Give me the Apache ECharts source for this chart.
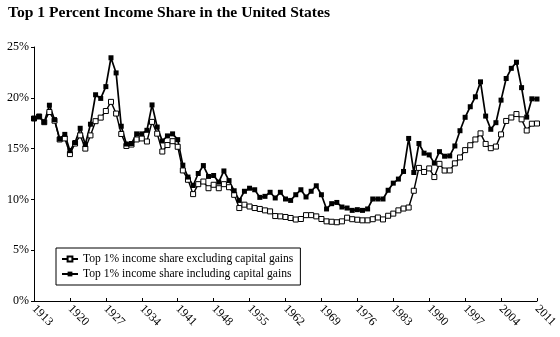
<!DOCTYPE html>
<html>
<head>
<meta charset="utf-8">
<script src="https://cdn.jsdelivr.net/npm/echarts@6/dist/echarts.min.js"></script>
<style>
html,body{margin:0;padding:0;background:#fff;}
#chart{width:560px;height:337px;}
</style>
</head>
<body>
<div id="chart"></div>
<script>
const years = [];
for (let y = 1913; y <= 2011; y++) years.push(String(y));

const seriesNames = [
  "Top 1% income share excluding capital gains",
  "Top 1% income share including capital gains"
];

// Top 1% income share excluding capital gains (%), 1913-2011
const excludingGains = [
  17.96, 18.16, 17.60, 18.60, 17.75, 15.90, 16.00, 14.46, 15.50, 16.30,
  15.00, 16.30, 17.70, 18.05, 18.70, 19.60, 18.45, 16.44, 15.26, 15.40,
  15.90, 16.00, 15.70, 17.63, 16.47, 14.71, 15.35, 15.73, 15.18, 12.85,
  11.93, 10.52, 11.50, 11.76, 11.10, 11.44, 11.10, 11.50, 11.20, 10.45,
  9.15, 9.48, 9.30, 9.15, 9.06, 8.92, 8.82, 8.36, 8.33, 8.27,
  8.17, 8.02, 8.07, 8.45, 8.45, 8.33, 8.07, 7.84, 7.80, 7.75,
  7.84, 8.20, 8.05, 8.00, 7.94, 7.94, 8.05, 8.22, 8.03, 8.39,
  8.60, 8.92, 9.10, 9.20, 10.85, 13.10, 12.70, 13.05, 12.20, 13.50,
  12.84, 12.85, 13.55, 14.13, 14.85, 15.33, 15.90, 16.50, 15.46, 15.04,
  15.20, 16.40, 17.72, 18.06, 18.40, 17.88, 16.78, 17.45, 17.47
];

// Top 1% income share including capital gains (%), 1913-2011
const includingGains = [
  17.96, 18.16, 17.60, 19.27, 17.85, 15.95, 16.40, 14.80, 15.60, 17.00,
  15.40, 17.40, 20.30, 19.94, 21.10, 23.94, 22.45, 17.20, 15.45, 15.50,
  16.45, 16.45, 16.80, 19.30, 17.12, 15.75, 16.25, 16.45, 15.88, 13.37,
  12.20, 11.37, 12.55, 13.33, 12.26, 12.35, 11.70, 12.80, 11.85, 10.85,
  9.90, 10.80, 11.10, 10.95, 10.20, 10.30, 10.70, 10.14, 10.70, 10.04,
  9.90, 10.46, 10.95, 10.24, 10.80, 11.34, 10.46, 9.06, 9.58, 9.70,
  9.25, 9.15, 8.92, 8.99, 8.92, 9.06, 10.04, 10.04, 10.04, 10.90,
  11.60, 12.00, 12.75, 16.00, 12.65, 15.50, 14.55, 14.38, 13.57, 14.70,
  14.25, 14.28, 15.26, 16.76, 18.08, 19.12, 20.10, 21.57, 18.20, 16.90,
  17.55, 19.77, 21.90, 22.90, 23.50, 21.00, 18.10, 19.90, 19.88
];

const yTicks = [0, 5, 10, 15, 20, 25];

const serif = '"Liberation Serif", "DejaVu Serif", serif';

const chart = echarts.init(document.getElementById('chart'), null, {renderer: 'canvas'});
chart.setOption({
  animation: false,
  backgroundColor: '#fff',
  title: {
    text: 'Top 1 Percent Income Share in the United States',
    left: 3,
    top: 0,
    textStyle: {fontFamily: serif, fontWeight: 'bold', fontSize: 15.6, color: '#000'}
  },
  grid: {left: 34, right: 23, top: 47, bottom: 36, containLabel: false},
  legend: {
    orient: 'vertical',
    left: 56,
    top: 248,
    padding: [5, 7, 5, 5],
    itemGap: 3,
    itemWidth: 16,
    itemHeight: 6,
    borderColor: '#000',
    borderWidth: 1,
    textStyle: {fontFamily: serif, fontSize: 11.6, color: '#000'},
    data: seriesNames
  },
  xAxis: {
    type: 'category',
    data: years,
    boundaryGap: false,
    axisLine: {lineStyle: {color: '#000', width: 1}},
    axisTick: {inside: true, length: 3, interval: 6, lineStyle: {color: '#000'}},
    axisLabel: {
      interval: 6, rotate: -45, margin: 6,
      fontFamily: serif, fontSize: 12, color: '#000'
    },
    splitLine: {show: false}
  },
  yAxis: {
    type: 'value',
    min: yTicks[0],
    max: yTicks[yTicks.length - 1],
    interval: 5,
    axisLine: {show: true, lineStyle: {color: '#000', width: 1}},
    axisTick: {show: true, length: 3, lineStyle: {color: '#000'}},
    axisLabel: {formatter: '{value}%', fontFamily: serif, fontSize: 12, color: '#000', margin: 5},
    splitLine: {show: false}
  },
  series: [
    {
      name: seriesNames[0],
      type: 'line',
      data: excludingGains,
      symbol: 'rect',
      symbolSize: 5,
      showAllSymbol: true,
      lineStyle: {color: '#000', width: 1.4},
      itemStyle: {color: '#fff', borderColor: '#000', borderWidth: 1}
    },
    {
      name: seriesNames[1],
      type: 'line',
      data: includingGains,
      symbol: 'rect',
      symbolSize: 5,
      showAllSymbol: true,
      lineStyle: {color: '#000', width: 1.7},
      itemStyle: {color: '#000', borderColor: '#000', borderWidth: 0}
    }
  ]
});
</script>
</body>
</html>
